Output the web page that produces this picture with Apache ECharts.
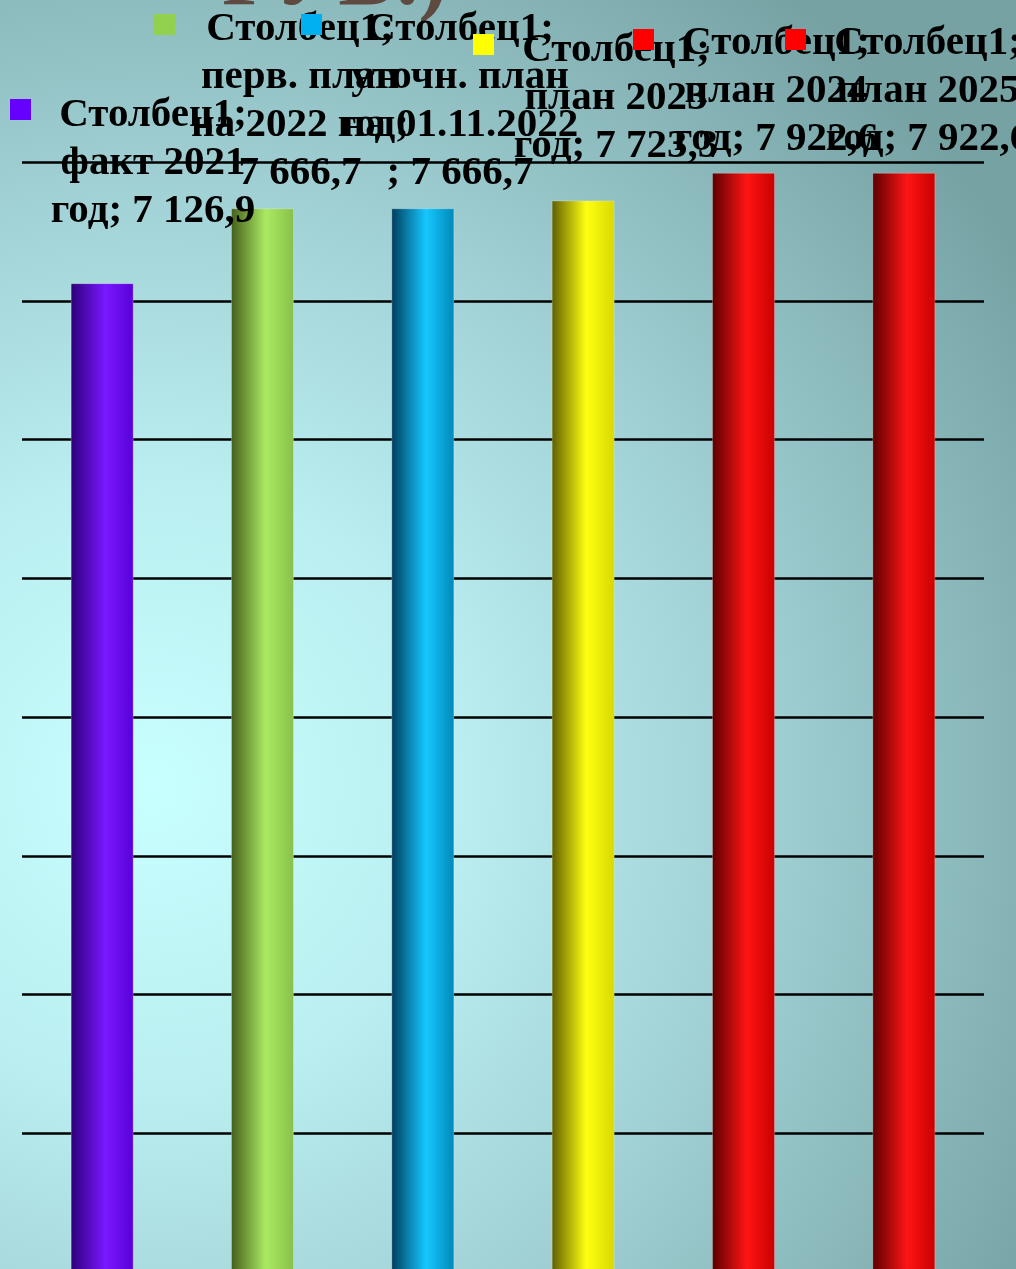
<!DOCTYPE html>
<html>
<head>
<meta charset="utf-8">
<script src="https://cdn.jsdelivr.net/npm/echarts@6/dist/echarts.min.js"></script>
<style>
  html, body { margin: 0; padding: 0; width: 1016px; height: 1269px; overflow: hidden; }
  #chart { width: 1016px; height: 1269px; }
</style>
</head>
<body>
<div id="chart"></div>
<script>
// ---- data ----
const seriesName = 'Столбец1';
const categories = ['факт 2021 год', 'перв. план на 2022 год', 'уточн. план на 01.11.2022 ', 'план 2023 год', 'план 2024 год', 'план 2025 год'];
const values = [7126.9, 7666.7, 7666.7, 7723.3, 7922.6, 7922.6];
const axisTicks = [0, 1000, 2000, 3000, 4000, 5000, 6000, 7000, 8000];
const titleText = 'РУБ.)';

// ---- styles / layout ----
const barColors = [
  ['#2c0078', '#7a18ff', '#5800d8'],
  ['#445e1c', '#aaea62', '#88c04a'],
  ['#003c5c', '#16c8ff', '#0088b8'],
  ['#5e5e00', '#ffff12', '#d8d800'],
  ['#5a0000', '#ff1414', '#c80000'],
  ['#5a0000', '#ff1414', '#c80000']
];
const keyColors = ['#6600ff', '#92d050', '#00b0f0', '#ffff00', '#ff0000', '#ff0000'];
const labelCenterX = [153, 300, 460, 616, 776, 928];
const labelTopY = [91, 5, 5, 26, 19, 19];
const labelWrapW = [220, 225, 245, 215, 215, 215];
const keyPos = [[10, 99], [154, 14], [301, 14], [473, 34], [633, 29], [785, 29]];
const FONT = 'bold 41px "Liberation Serif", "Times New Roman", serif';

function fmt(v) {
  const s = v.toFixed(1).split('.');
  return s[0].replace(/\B(?=(\d{3})+(?!\d))/g, ' ') + ',' + s[1];
}
const ctx = document.createElement('canvas').getContext('2d');
ctx.font = FONT;
function wrap(text, maxW) {
  const words = text.split(' ').filter(w => w.length);
  const lines = [];
  let cur = '';
  words.forEach(w => {
    const t = cur ? cur + ' ' + w : w;
    if (cur && ctx.measureText(t).width > maxW) { lines.push(cur); cur = w; }
    else cur = t;
  });
  if (cur) lines.push(cur);
  return lines.join('\n');
}

const chart = echarts.init(document.getElementById('chart'));

const graphics = [];
graphics.push({
  type: 'text', x: 222, y: 25, z: 50,
  style: { text: titleText, font: 'bold 88px "Liberation Serif", serif', fill: '#5e4a40',
           align: 'left', verticalAlign: 'bottom', lineHeight: 88 }
});
categories.forEach((c, i) => {
  const full = seriesName + '; ' + c + '; ' + fmt(values[i]);
  graphics.push({
    type: 'group', z: 60 + i,
    children: [
      { type: 'rect', shape: { x: keyPos[i][0], y: keyPos[i][1], width: 21, height: 21 }, style: { fill: keyColors[i] }, z: 60 + i },
      { type: 'text', x: labelCenterX[i], y: labelTopY[i], z: 60 + i,
        style: { text: wrap(full, labelWrapW[i]), font: FONT, fill: '#000', align: 'center', verticalAlign: 'top', lineHeight: 48 } }
    ]
  });
});

chart.setOption({
  backgroundColor: {
    type: 'radial', x: 0.15, y: 0.62, r: 1.0,
    colorStops: [
      { offset: 0, color: '#c8ffff' },
      { offset: 0.3, color: '#baeef0' },
      { offset: 0.6, color: '#a0d0d4' },
      { offset: 1, color: '#76a2a4' }
    ]
  },
  animation: false,
  grid: { left: 22, top: 162, width: 962, height: 1110, outerBoundsMode: 'none', containLabel: false },
  xAxis: {
    type: 'category', data: categories,
    axisLine: { show: false }, axisTick: { show: false }, axisLabel: { show: false }
  },
  yAxis: {
    type: 'value', min: axisTicks[0], max: axisTicks[axisTicks.length - 1], interval: axisTicks[1] - axisTicks[0],
    axisLine: { show: false }, axisTick: { show: false }, axisLabel: { show: false },
    splitLine: { showMinLine: false, lineStyle: { color: '#000', width: 2.5 } }
  },
  series: [{
    name: seriesName, type: 'bar', barWidth: 63,
    data: values.map((v, i) => ({
      value: v,
      itemStyle: {
        color: {
          type: 'linear', x: 0, y: 0, x2: 1, y2: 0,
          colorStops: [
            { offset: 0, color: barColors[i][0] },
            { offset: 0.55, color: barColors[i][1] },
            { offset: 1, color: barColors[i][2] }
          ]
        },
        borderColor: 'rgba(255,255,255,0.25)', borderWidth: 1
      }
    }))
  }],
  graphic: graphics
});
</script>
</body>
</html>
